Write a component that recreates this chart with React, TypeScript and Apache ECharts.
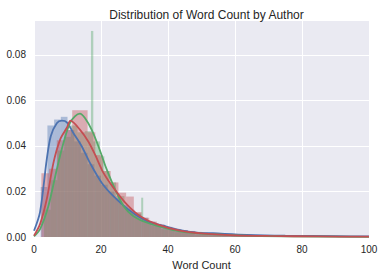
import React, { useEffect, useRef } from "react";
import * as echarts from "echarts";

const xTicks = [0, 20, 40, 60, 80, 100];
const yTicks = [0, 0.02, 0.04, 0.06, 0.08];

const blueEdges = [2,4,6,8,10,12,14,16,18,20,22,24,26,28,30,32,34,36,38,40,42,44,46,48,50,52,54,56,58,60,64,68,72,76,80,84,88,92,96,100,104];
const blueHeights = [0.022,0.049,0.0516,0.0528,0.047,0.042,0.037,0.032,0.027,0.023,0.020,0.017,0.014,0.012,0.010,0.0085,0.0068,0.0058,0.0048,0.0041,0.0035,0.0031,0.0027,0.0023,0.0020,0.0018,0.0016,0.0014,0.0012,0.0011,0.0009,0.0008,0.0007,0.0006,0.0005,0.0005,0.0004,0.0004,0.0003,0.0003];

const redEdges = [2.2,4.5,6.8,9.1,11.4,13.7,16,18.3,20.6,22.9,25.2,27.5,29.8,32.1,34.4,36.7,39,41.3,43.6,45.9,48.2,50.5,55,60,65,70,80,90,100,110];
const redHeights = [0.028,0.030,0.0425,0.047,0.0557,0.0557,0.046,0.036,0.029,0.024,0.0195,0.0178,0.011,0.0085,0.0068,0.0055,0.0045,0.0036,0.003,0.0025,0.002,0.0017,0.0013,0.001,0.0008,0.0006,0.0004,0.0003,0.0002];

const greenEdges = [3,5,7,9,11,13,15.2,17,17.7,19.7,21,22.5,24.5,27,29,32,32.6,35,38,42,48,56,70,100];
const greenHeights = [0.012,0.025,0.038,0.044,0.049,0.046,0.0465,0.0905,0.042,0.0355,0.029,0.024,0.018,0.013,0.0105,0.0173,0.007,0.005,0.0035,0.0022,0.0012,0.0006,0.0002];

const blueKde = [[0,0.0028],[1.8,0.011],[3.8,0.034],[5,0.0443],[6.8,0.050],[8.3,0.0511],[9.8,0.0504],[11.7,0.0458],[14.2,0.040],[16.7,0.0326],[20.2,0.0239],[23.7,0.018],[28.7,0.0115],[33.6,0.0071],[38.6,0.005],[43.6,0.0031],[48.6,0.002],[53.4,0.0017],[63.5,0.001],[75,0.0006],[90,0.0004],[100,0.0003]];
const greenKde = [[0,0.0003],[1.8,0.0035],[4.3,0.0137],[6.8,0.0297],[8.8,0.0414],[10.7,0.050],[12.2,0.053],[13.7,0.0542],[15.2,0.0523],[17.2,0.0472],[19.2,0.040],[21.7,0.0297],[24.2,0.021],[26.7,0.0137],[29.6,0.0093],[33.6,0.0064],[38.6,0.0042],[43.6,0.0025],[50,0.0015],[60,0.0008],[75,0.0003],[100,0.0001]];
const redKde = [[0,0.0006],[1.8,0.0057],[3.8,0.0166],[5.8,0.0326],[7.8,0.0428],[9.8,0.048],[10.9,0.0511],[13.7,0.0472],[16.2,0.042],[18.2,0.0363],[20.7,0.0283],[23.7,0.0217],[27.7,0.0144],[31.6,0.0093],[36.6,0.0057],[43.6,0.0028],[50,0.0016],[60,0.0008],[70,0.0005],[85,0.0003],[100,0.0002]];

const BLUE = "#4C72B0";
const GREEN = "#55A868";
const RED = "#C44E52";
const TEXT = "#262626";
const FONT = "'Liberation Sans', Arial, sans-serif";

function bins(edges: number[], heights: number[]) {
  return heights.map((h, i) => [edges[i], edges[i + 1], h]);
}

function histSeries(edges: number[], heights: number[], color: string) {
  return {
    type: "custom",
    clip: true,
    data: bins(edges, heights),
    encode: { x: [0, 1], y: 2 },
    renderItem: (params: any, api: any) => {
      const p0 = api.coord([api.value(0), api.value(2)]);
      const p1 = api.coord([api.value(1), 0]);
      return {
        type: "rect",
        shape: { x: p0[0], y: p0[1], width: p1[0] - p0[0], height: p1[1] - p0[1] },
        style: { fill: color, opacity: 0.4 },
      };
    },
  };
}

function kdeSeries(data: number[][], color: string) {
  return {
    type: "line",
    data,
    smooth: 0.3,
    symbol: "none",
    clip: true,
    lineStyle: { color, width: 1.8 },
  };
}

export default function App() {
  const ref = useRef<HTMLDivElement>(null);
  useEffect(() => {
    if (!ref.current) return;
    const chart = echarts.init(ref.current, null, { renderer: "svg" });
    chart.setOption({
      animation: false,
      title: {
        text: "Distribution of Word Count by Author",
        left: 201.5,
        textAlign: "center",
        top: 4,
        textStyle: { fontFamily: FONT, fontSize: 12, fontWeight: "normal", color: TEXT },
      },
      grid: {
        left: 34,
        right: 15,
        top: 20,
        bottom: 37,
        show: true,
        backgroundColor: "#EAEAF2",
        borderWidth: 0,
      },
      xAxis: {
        type: "value",
        min: xTicks[0],
        max: xTicks[xTicks.length - 1],
        interval: 20,
        name: "Word Count",
        nameLocation: "middle",
        nameGap: 19,
        nameTextStyle: { fontFamily: FONT, fontSize: 11, color: TEXT },
        axisLine: { show: false },
        axisTick: { show: false },
        axisLabel: { fontFamily: FONT, fontSize: 10, color: TEXT, margin: 7 },
        splitLine: { show: true, lineStyle: { color: "#FFFFFF", width: 1 } },
      },
      yAxis: {
        type: "value",
        min: yTicks[0],
        max: 0.0953,
        interval: 0.02,
        axisLine: { show: false },
        axisTick: { show: false },
        axisLabel: {
          fontFamily: FONT,
          fontSize: 10,
          color: TEXT,
          margin: 8,
          showMaxLabel: false,
          formatter: (v: number) => v.toFixed(2),
        },
        splitLine: { show: true, lineStyle: { color: "#FFFFFF", width: 1 } },
      },
      series: [
        histSeries(blueEdges, blueHeights, BLUE),
        kdeSeries(blueKde, BLUE),
        histSeries(greenEdges, greenHeights, GREEN),
        kdeSeries(greenKde, GREEN),
        histSeries(redEdges, redHeights, RED),
        kdeSeries(redKde, RED),
      ],
    });
    return () => chart.dispose();
  }, []);
  return <div ref={ref} style={{ width: 384, height: 275, position: "absolute", left: 0, top: 0 }} />;
}
